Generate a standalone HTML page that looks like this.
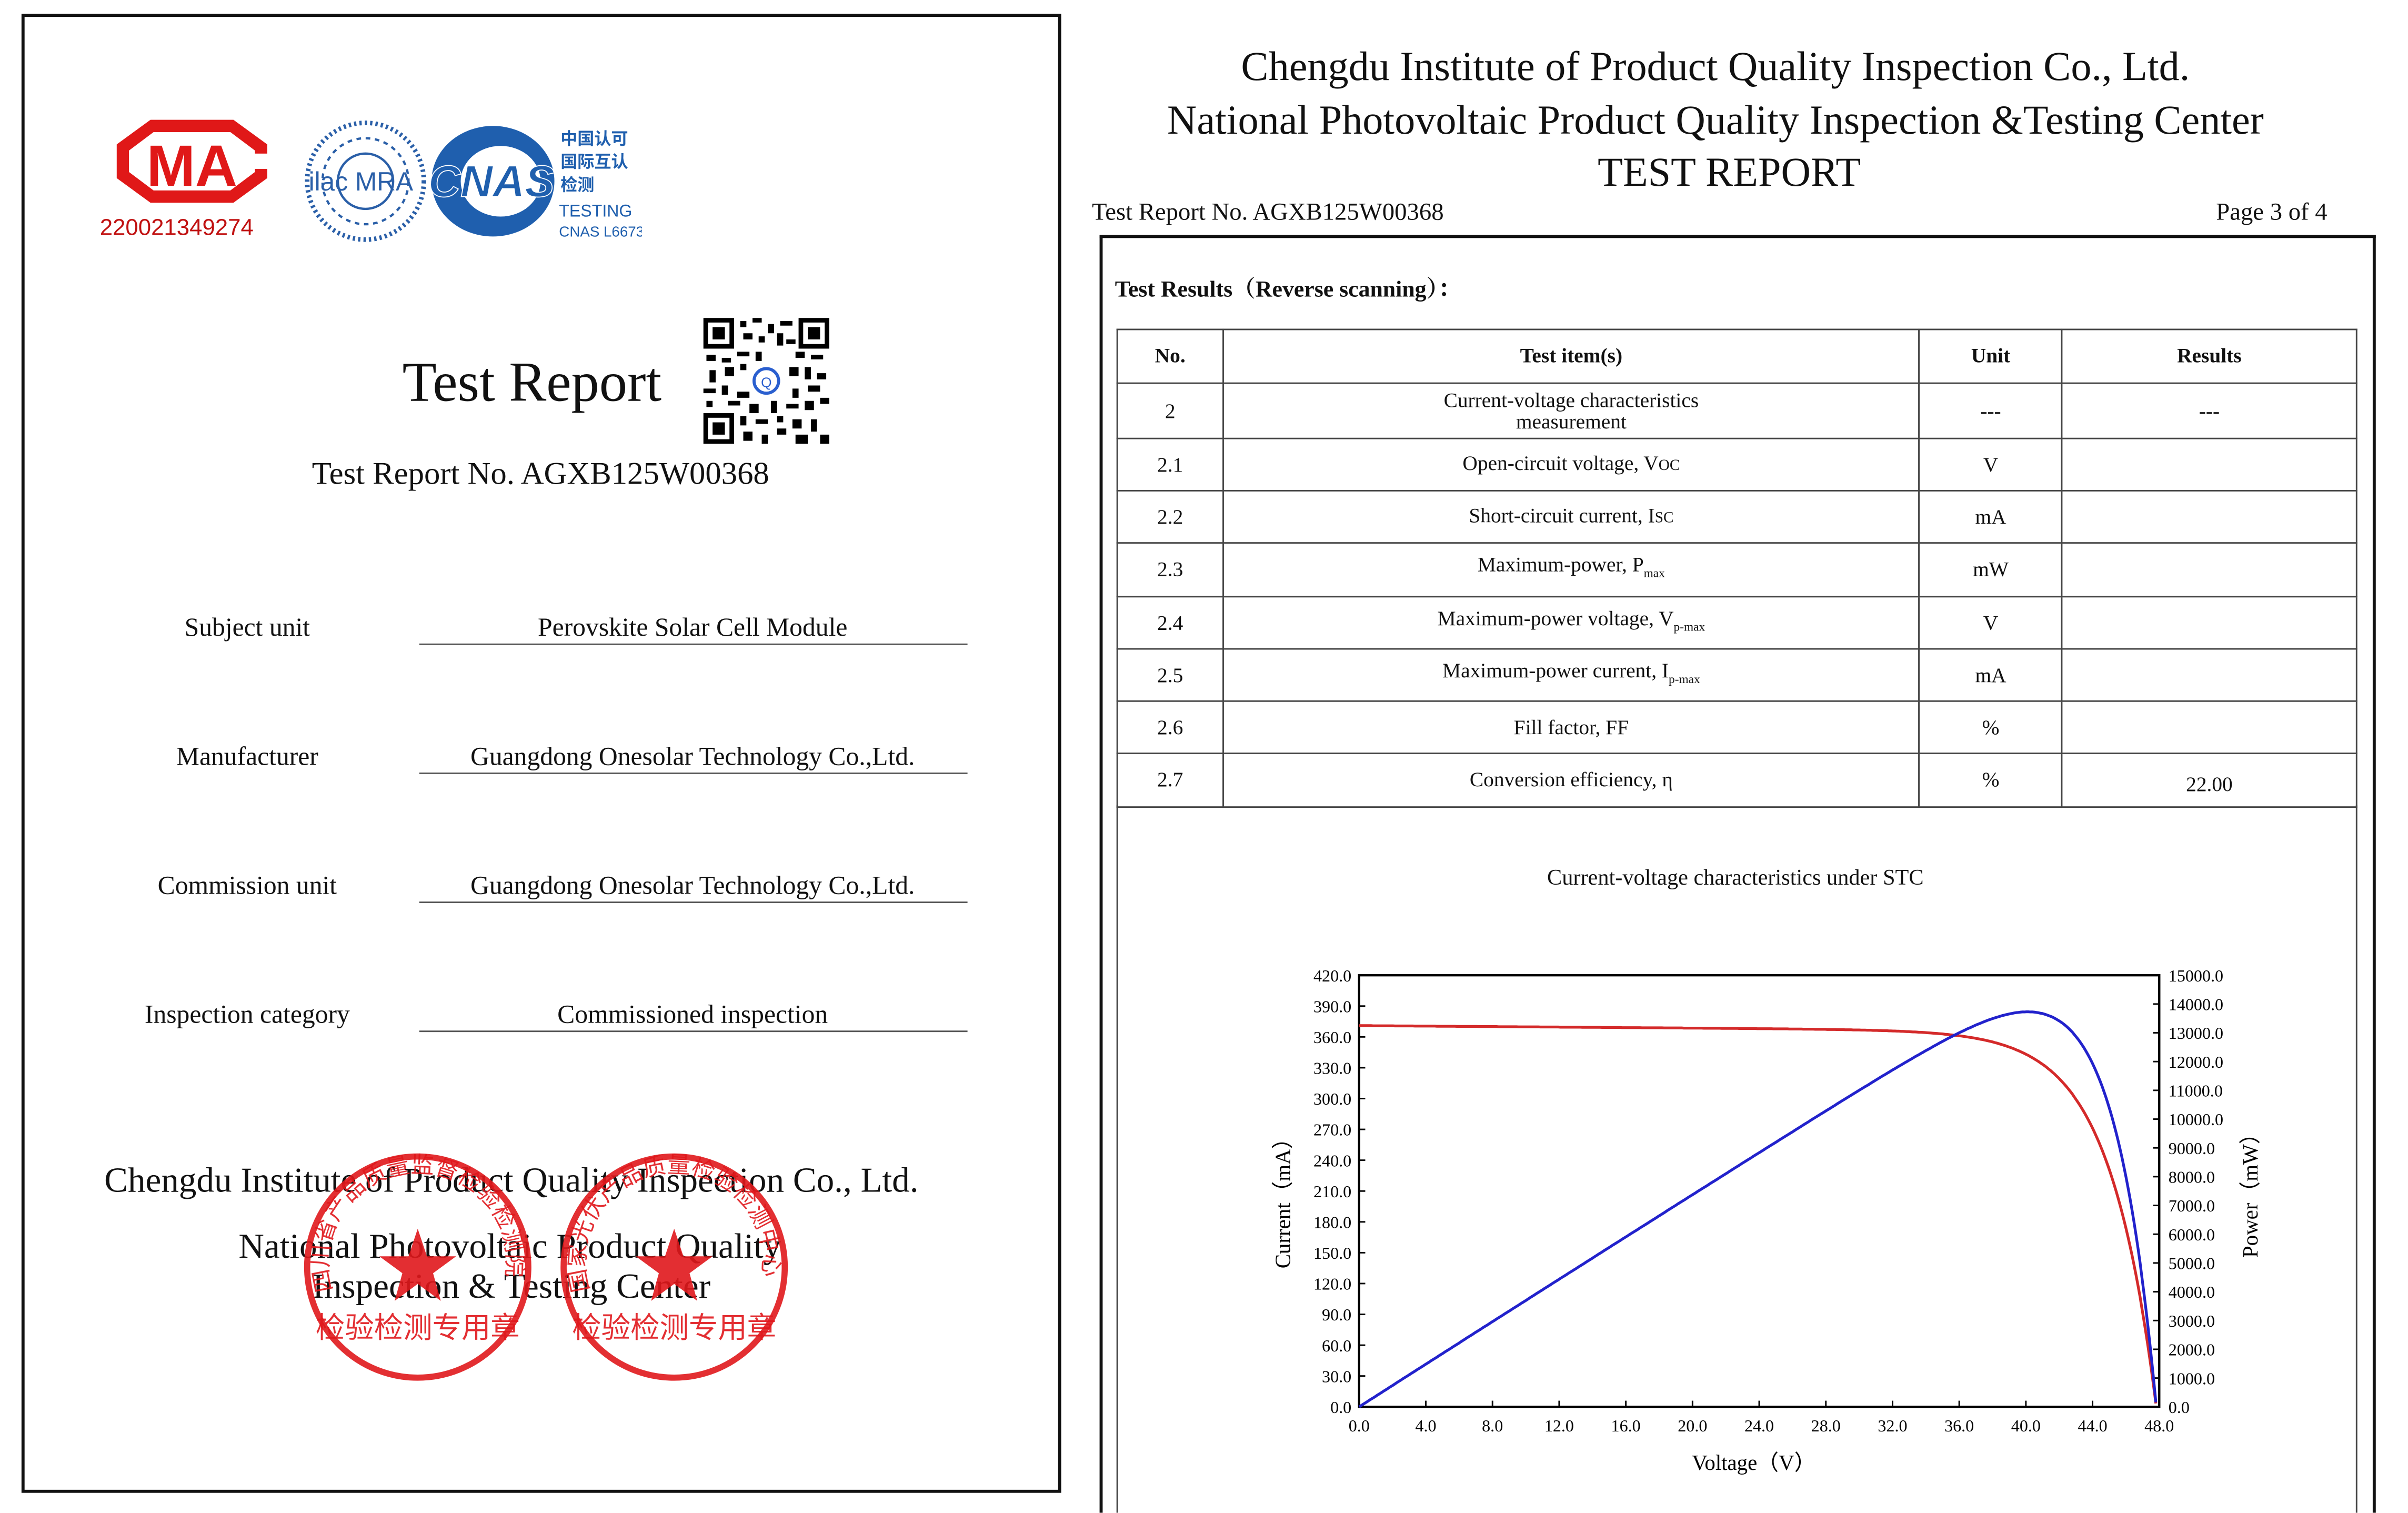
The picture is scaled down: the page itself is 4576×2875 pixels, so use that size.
<!DOCTYPE html>
<html><head><meta charset="utf-8"><style>
html,body{margin:0;padding:0;background:#fff;}
body{width:4576px;height:2874px;overflow:hidden;position:relative;}
#w{position:absolute;left:0;top:0;width:1568px;height:985px;overflow:hidden;transform:scale(2.9184);transform-origin:0 0;font-family:"Liberation Serif","Noto Serif CJK SC",serif;color:#111;}
.a{position:absolute;white-space:nowrap;}
.c{transform:translateX(-50%);}
.ul{position:absolute;height:0;border-top:1px solid #555;}
table{position:absolute;left:727px;top:214px;width:808px;border-collapse:collapse;font-size:13.5px;}
td{border:1.5px solid #444;text-align:center;padding:0;line-height:14px;}
sub{font-size:8px;}
</style></head><body><div id="w">
<!-- left page -->
<div class="a" style="left:14px;top:9px;width:673px;height:959px;border:2px solid #111;"></div>
<svg class="a" style="left:70px;top:74px" width="110" height="62" viewBox="0 0 110 62">
<path d="M28 4 H82 L104 20 V42 L82 58 H28 L6 42 V20 Z" fill="#e01818"/>
<path d="M30 12 H80 L96 24 V38 L80 50 H30 L14 38 V24 Z" fill="#fff"/>
<rect x="96" y="26" width="14" height="10" fill="#fff"/>
<text x="55" y="47" font-family="Liberation Sans" font-weight="bold" font-size="38" fill="#e01818" text-anchor="middle">MA</text>
</svg>
<div class="a" style="left:65px;top:140px;font-family:'Liberation Sans';font-size:15px;color:#c01010;">220021349274</div>
<svg class="a" style="left:198px;top:76px" width="220" height="84" viewBox="0 0 220 84">
<circle cx="40" cy="42" r="38" fill="none" stroke="#2a5fa8" stroke-width="3" stroke-dasharray="1.5 2"/>
<circle cx="40" cy="42" r="28" fill="none" stroke="#2a5fa8" stroke-width="1.5" stroke-dasharray="3 3"/>
<circle cx="40" cy="42" r="18" fill="none" stroke="#2a5fa8" stroke-width="1.5"/>
<text x="3" y="48" font-family="Liberation Sans" font-size="17" fill="#2a5fa8">ilac MRA</text>
<ellipse cx="123" cy="42" rx="40" ry="36" fill="#1f5fae"/>
<ellipse cx="128" cy="42" rx="26" ry="23" fill="#fff"/>
<text x="122" y="52" font-family="Liberation Sans" font-weight="bold" font-style="italic" font-size="29" fill="#1f5fae" text-anchor="middle" stroke="#fff" stroke-width="0.6">CNAS</text>
<text x="167" y="18" font-family="Noto Sans CJK SC" font-weight="bold" font-size="11" fill="#1f5fae">中国认可</text>
<text x="167" y="33" font-family="Noto Sans CJK SC" font-weight="bold" font-size="11" fill="#1f5fae">国际互认</text>
<text x="167" y="48" font-family="Noto Sans CJK SC" font-weight="bold" font-size="11" fill="#1f5fae">检测</text>
<text x="166" y="65" font-family="Liberation Sans" font-size="11" fill="#1f5fae">TESTING</text>
<text x="166" y="78" font-family="Liberation Sans" font-size="9.5" fill="#1f5fae">CNAS L6673</text>
</svg>
<div class="a" style="left:262px;top:227px;font-size:36.5px;">Test Report</div>
<svg class="a" style="left:458px;top:207px" width="82" height="82" viewBox="0 0 82 82">
<rect width="82" height="82" fill="#fff"/>
<g fill="#000">
<rect x="0" y="0" width="20" height="20"/><rect x="62" y="0" width="20" height="20"/><rect x="0" y="62" width="20" height="20"/>
</g>
<g fill="#fff"><rect x="3" y="3" width="14" height="14"/><rect x="65" y="3" width="14" height="14"/><rect x="3" y="65" width="14" height="14"/></g>
<g fill="#000"><rect x="6" y="6" width="8" height="8"/><rect x="68" y="6" width="8" height="8"/><rect x="6" y="68" width="8" height="8"/>
<path d="M24 2h4v4h-4zM32 0h6v3h-6zM42 4h4v6h-4zM50 2h8v3h-8zM26 10h6v4h-6zM36 12h4v4h-4zM48 10h4v8h-4zM54 14h6v3h-6zM22 22h8v3h-8zM2 24h6v4h-6zM12 26h6v3h-6zM34 22h4v6h-4zM60 22h6v4h-6zM70 24h8v3h-8zM4 34h4v8h-4zM14 32h6v6h-6zM24 30h4v4h-4zM56 32h6v6h-6zM66 32h4v8h-4zM74 36h6v4h-6zM0 46h8v3h-8zM12 44h4v6h-4zM22 48h8v4h-8zM58 46h4v6h-4zM68 44h8v4h-8zM2 54h4v4h-4zM16 54h8v3h-8zM30 56h6v6h-6zM44 54h4v8h-4zM54 56h8v3h-8zM66 54h6v6h-6zM76 52h6v4h-6zM24 64h4v6h-4zM34 66h8v3h-8zM48 64h4v4h-4zM58 66h6v6h-6zM70 66h4v8h-4zM26 74h6v6h-6zM38 76h4v6h-4zM48 72h6v4h-6zM60 76h8v6h-8zM76 76h6v6h-6z"/></g>
<circle cx="41" cy="41" r="8" fill="#fff" stroke="#2a5fcf" stroke-width="2"/>
<text x="41" y="45" font-size="9" fill="#2a5fcf" text-anchor="middle" font-family="Liberation Sans">Q</text>
</svg>
<div class="a c" style="left:352px;top:297px;font-size:20.8px;">Test Report No. AGXB125W00368</div>
<div class="a c" style="left:161px;top:399px;font-size:17px;">Subject unit</div>
<div class="a c" style="left:451px;top:399px;font-size:17px;">Perovskite Solar Cell Module</div>
<div class="ul" style="left:273px;top:419px;width:357px;"></div>
<div class="a c" style="left:161px;top:483px;font-size:17px;">Manufacturer</div>
<div class="a c" style="left:451px;top:483px;font-size:17px;">Guangdong Onesolar Technology Co.,Ltd.</div>
<div class="ul" style="left:273px;top:503px;width:357px;"></div>
<div class="a c" style="left:161px;top:567px;font-size:17px;">Commission unit</div>
<div class="a c" style="left:451px;top:567px;font-size:17px;">Guangdong Onesolar Technology Co.,Ltd.</div>
<div class="ul" style="left:273px;top:587px;width:357px;"></div>
<div class="a c" style="left:161px;top:651px;font-size:17px;">Inspection category</div>
<div class="a c" style="left:451px;top:651px;font-size:17px;">Commissioned inspection</div>
<div class="ul" style="left:273px;top:671px;width:357px;"></div>
<div class="a c" style="left:333px;top:756px;font-size:23px;">Chengdu Institute of Product Quality Inspection Co., Ltd.</div>
<div class="a c" style="left:332px;top:799px;font-size:23px;">National Photovoltaic Product Quality</div>
<div class="a c" style="left:333px;top:825px;font-size:23px;">Inspection &amp; Testing Center</div>
<svg class="a" style="left:190px;top:745px" width="340" height="160" viewBox="0 0 340 160">
<defs>
<path id="arc1" d="M27 95 A58 58 0 1 1 137 95"/>
<path id="arc2" d="M194 95 A58 58 0 1 1 304 95"/>
</defs>
<g fill="none" stroke="#e0181c" stroke-width="4" opacity="0.9">
<circle cx="82" cy="80" r="72"/><circle cx="249" cy="80" r="72"/>
</g>
<g fill="#e0181c" opacity="0.9">
<polygon points="82,55 88,73 107,73 92,84 97,102 82,91 67,102 72,84 57,73 76,73"/>
<polygon points="249,55 255,73 274,73 259,84 264,102 249,91 234,102 239,84 224,73 243,73"/>
<text x="82" y="126" font-family="Noto Sans CJK SC" font-size="19" text-anchor="middle">检验检测专用章</text>
<text x="249" y="126" font-family="Noto Sans CJK SC" font-size="19" text-anchor="middle">检验检测专用章</text>
<text font-family="Noto Sans CJK SC" font-size="15"><textPath href="#arc1">四川省产品质量监督检验检测院</textPath></text>
<text font-family="Noto Sans CJK SC" font-size="15"><textPath href="#arc2">国家光伏产品质量检验检测中心</textPath></text>
</g>
</svg>
<!-- right page -->
<div class="a c" style="left:1117px;top:28px;font-size:26.8px;">Chengdu Institute of Product Quality Inspection Co., Ltd.</div>
<div class="a c" style="left:1117px;top:63px;font-size:26.8px;">National Photovoltaic Product Quality Inspection &amp;Testing Center</div>
<div class="a c" style="left:1126px;top:97px;font-size:26.8px;">TEST REPORT</div>
<div class="a" style="left:711px;top:130px;font-size:16px;">Test Report No. AGXB125W00368</div>
<div class="a" style="left:1443px;top:130px;font-size:16px;">Page 3 of 4</div>
<div class="a" style="left:716px;top:153px;width:827px;height:832px;border:2px solid #111;border-bottom:none;box-sizing:border-box;width:831px;"></div>
<div class="a" style="left:726px;top:177px;font-size:15px;font-weight:bold;">Test Results（Reverse scanning）：</div>
<div class="a" style="left:727px;top:524px;width:808px;height:461px;border-left:1.5px solid #444;border-right:1.5px solid #444;box-sizing:border-box;"></div>
<table>
<colgroup><col style="width:69px"><col style="width:454px"><col style="width:93px"><col style="width:192px"></colgroup>
<tr style="height:35px;font-weight:bold"><td><b>No.</b></td><td><b>Test item(s)</b></td><td><b>Unit</b></td><td><b>Results</b></td></tr>
<tr style="height:36px"><td>2</td><td>Current-voltage characteristics<br>measurement</td><td><b>---</b></td><td><b>---</b></td></tr>
<tr style="height:34px"><td>2.1</td><td>Open-circuit voltage, V<span style="font-size:10px">OC</span></td><td>V</td><td></td></tr>
<tr style="height:34px"><td>2.2</td><td>Short-circuit current, I<span style="font-size:10px">SC</span></td><td>mA</td><td></td></tr>
<tr style="height:35px"><td>2.3</td><td>Maximum-power, P<sub>max</sub></td><td>mW</td><td></td></tr>
<tr style="height:34px"><td>2.4</td><td>Maximum-power voltage, V<sub>p-max</sub></td><td>V</td><td></td></tr>
<tr style="height:34px"><td>2.5</td><td>Maximum-power current, I<sub>p-max</sub></td><td>mA</td><td></td></tr>
<tr style="height:34px"><td>2.6</td><td>Fill factor, FF</td><td>%</td><td></td></tr>
<tr style="height:35px"><td>2.7</td><td>Conversion efficiency, η</td><td>%</td><td style="padding-top:6px">22.00</td></tr>
</table>
<div class="a c" style="left:1130px;top:564px;font-size:14.5px;">Current-voltage characteristics under STC</div>
<svg class="a" style="left:0;top:0" width="1568" height="985" id="ch" font-family="Liberation Serif" font-size="11"></svg>
</div>
<script>
(function(){
var s=document.getElementById('ch'),x0=885,x1=1406,y0=916,y1=635,h='';
h+='<rect x="'+x0+'" y="'+y1+'" width="'+(x1-x0)+'" height="'+(y0-y1)+'" fill="none" stroke="#000" stroke-width="1.5"/>';
for(var i=0;i<=14;i++){var y=y0-i*(y0-y1)/14;h+='<line x1="'+x0+'" x2="'+(x0+4)+'" y1="'+y+'" y2="'+y+'" stroke="#000"/><text x="'+(x0-5)+'" y="'+(y+4)+'" text-anchor="end">'+(i*30).toFixed(1)+'</text>';}
for(var i=0;i<=15;i++){var y=y0-i*(y0-y1)/15;h+='<line x1="'+x1+'" x2="'+(x1-4)+'" y1="'+y+'" y2="'+y+'" stroke="#000"/><text x="'+(x1+6)+'" y="'+(y+4)+'">'+(i*1000).toFixed(1)+'</text>';}
for(var i=0;i<=12;i++){var x=x0+i*(x1-x0)/12;h+='<line x1="'+x+'" x2="'+x+'" y1="'+y0+'" y2="'+(y0-4)+'" stroke="#000"/><text x="'+x+'" y="'+(y0+16)+'" text-anchor="middle">'+(i*4).toFixed(1)+'</text>';}
h+='<text x="1142" y="957" text-anchor="middle" font-size="14">Voltage（V）</text>';
h+='<text transform="translate(840,780) rotate(-90)" text-anchor="middle" font-size="14">Current（mA）</text>';
h+='<text transform="translate(1470,775) rotate(-90)" text-anchor="middle" font-size="14">Power（mW）</text>';
function I(v){return 371-0.12*v-23*Math.exp((v-40)/2.83);}
var vo=47.8;var pi=[],pp=[];
for(var k=0;k<=400;k++){var v=vo*k/400;var c=Math.max(0,I(v));var X=x0+v/48*(x1-x0);
pi.push(X.toFixed(1)+','+(y0-c/420*(y0-y1)).toFixed(1));
pp.push(X.toFixed(1)+','+(y0-c*v/15000*(y0-y1)).toFixed(1));}
h+='<polyline points="'+pi.join(' ')+'" fill="none" stroke="#d42a2a" stroke-width="1.8"/>';
h+='<polyline points="'+pp.join(' ')+'" fill="none" stroke="#2222cc" stroke-width="1.8"/>';
s.innerHTML=h;})();
</script>
</body></html>
